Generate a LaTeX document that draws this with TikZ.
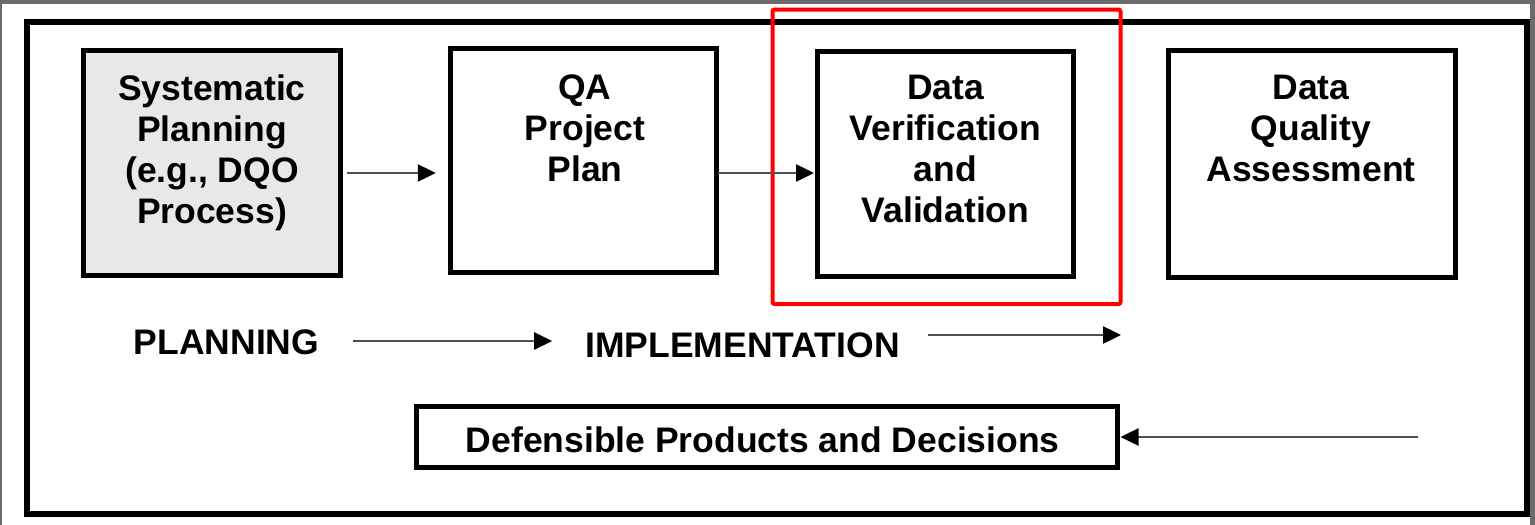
\documentclass[tikz,border=0pt]{standalone}
\usepackage{fontspec}
\setmainfont{Liberation Sans}
\usetikzlibrary{arrows.meta,calc}
\definecolor{edgegray}{HTML}{6B6B6B}
\definecolor{boxfill}{HTML}{E8E8E8}
\definecolor{shaft}{HTML}{505050}
\definecolor{hilite}{HTML}{FF0000}
\tikzset{
  stagebox/.style={draw=black, line width=5pt, fill=white, inner sep=0pt},
  stagetext/.style={font=\fontsize{35.5}{41}\selectfont\bfseries, align=center, inner sep=0pt, anchor=north},
  phasetext/.style={font=\fontsize{35.5}{41}\selectfont\bfseries, inner sep=0pt},
  flow/.style={draw=shaft, line width=2.5pt, -{Triangle[length=18pt,width=17pt,color=black]}}
}
\begin{document}
\begin{tikzpicture}[x=1pt,y=-1pt]
  \useasboundingbox (0,0) rectangle (1535,525);
  % page surround
  \fill[white] (0,0) rectangle (1535,525);
  \fill[edgegray] (0,0) rectangle (1535,3.5);
  \fill[edgegray] (0,0) rectangle (2,525);
  \fill[edgegray] (1530,0) rectangle (1535,525);
  % outer frame
  \draw[black, line width=6pt] (26.5,21.5) rectangle (1527,514);

  % process stages
  \node[stagebox, fill=boxfill, minimum width=257pt, minimum height=225pt] (sp) at (212,163) {};
  \node[stagebox, minimum width=266.7pt, minimum height=223.5pt] (qa) at (583.6,160.25) {};
  \node[stagebox, minimum width=256pt, minimum height=225.5pt] (dvv) at (945.5,163.75) {};
  \node[stagebox, minimum width=286.5pt, minimum height=227pt] (dqa) at (1311.75,163.5) {};

  \node[stagetext] (sptxt) at (212,75) {Systematic\\Planning\\(e.g., DQO\\Process)};
  \node[stagetext] (qatxt) at (585,75) {QA\\Project\\Plan};
  \node[stagetext] (dvvtxt) at (945.5,75) {Data\\Verification\\and\\Validation};
  \node[stagetext] (dqatxt) at (1311,75) {Data\\Quality\\Assessment};

  % highlight around verification and validation
  \draw[hilite, line width=4pt, rounded corners=2pt] (772.5,9.5) rectangle (1120.5,304);

  % stage arrows
  \draw[flow] ($(sp.east)+(4,10)$) -- ($(qa.west)+(-12,12.75)$);
  \draw[flow] ($(qa.east)+(-1,12.75)$) -- ($(dvv.west)+(-1,9.25)$);

  % phases
  \node[phasetext] (plan) at (226.5,342) {PLANNING};
  \node[phasetext] (impl) at (742.5,345) {IMPLEMENTATION};
  \coordinate (implend) at (1121,335);
  \draw[flow] ($(plan.east)+(34,-1)$) -- ($(impl.west)+(-33,-4)$);
  \draw[flow] ($(impl.east)+(28,-10)$) -- (implend);

  % outcome
  \node[stagebox, minimum width=700.5pt, minimum height=61pt] (def) at (766.75,437) {};
  \node[phasetext] (deftxt) at ($(def.center)+(-4,3)$) {Defensible Products and Decisions};
  \coordinate (fbstart) at (1418,437);
  \draw[flow] (fbstart) -- ($(def.east)+(1,0)$);
\end{tikzpicture}
\end{document}
